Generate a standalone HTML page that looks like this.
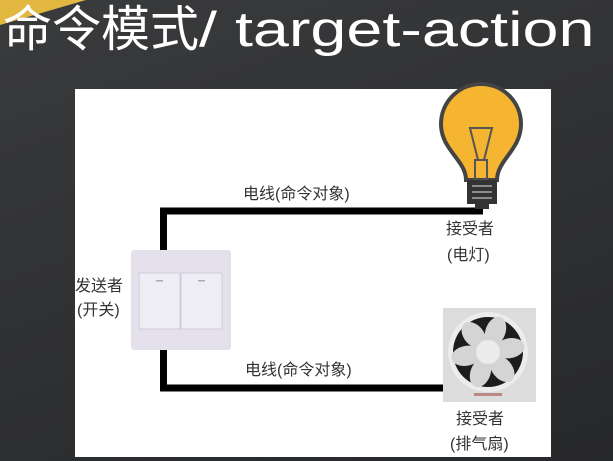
<!DOCTYPE html>
<html><head><meta charset="utf-8"><style>
html,body{margin:0;padding:0}
body{width:613px;height:461px;overflow:hidden;position:relative;background:linear-gradient(160deg,#3a3b3d 0%,#303133 50%,#27282a 100%);font-family:"Liberation Sans","Noto Sans CJK SC",sans-serif}
.t{position:absolute;white-space:nowrap;color:#333;font-size:16px;line-height:18px}
</style></head><body>
<svg width="613" height="461" style="position:absolute;left:0;top:0">
<polygon points="0,0 86,0 0,25" fill="#e2b840"/>
<rect x="75" y="89" width="476" height="368" fill="#fff"/>
<path d="M483,211 H163.5 V252" fill="none" stroke="#000" stroke-width="7"/>
<path d="M163.5,348 V388 H445" fill="none" stroke="#000" stroke-width="7"/>
<rect x="131" y="250" width="100" height="100" rx="3" fill="#e4e1ec"/>
<rect x="139" y="273" width="41" height="56" fill="#eeecf4" stroke="#cfcbd8"/>
<rect x="181" y="273" width="41" height="56" fill="#eeecf4" stroke="#cfcbd8"/>
<rect x="156" y="280" width="7" height="1.5" fill="#aaa"/>
<rect x="198" y="280" width="7" height="1.5" fill="#aaa"/>
<path d="M466,180 C466,160 441,150 441,124 A40,40 0 0 1 521,124 C521,150 497,160 497,180 Z" fill="#f5b531" stroke="#444" stroke-width="4"/>
<path d="M470,128 L492,128 L484,160 L478,160 Z" fill="none" stroke="#555" stroke-width="2"/>
<rect x="475" y="160" width="12" height="20" fill="none" stroke="#555" stroke-width="2"/>
<rect x="467" y="180" width="30" height="24" fill="#333"/>
<line x1="472" y1="186" x2="492" y2="186" stroke="#aaa" stroke-width="1.5"/>
<line x1="472" y1="192" x2="492" y2="192" stroke="#aaa" stroke-width="1.5"/>
<line x1="472" y1="198" x2="492" y2="198" stroke="#aaa" stroke-width="1.5"/>
<rect x="475" y="204" width="14" height="5" fill="#333"/>
<rect x="443" y="308" width="93" height="94" fill="#dcdcdc"/>
<circle cx="488" cy="352" r="40" fill="#ececec"/>
<circle cx="488" cy="352" r="35" fill="#1d1d1d"/>
<g fill="#d4d4d4">
<ellipse cx="488" cy="330" rx="10" ry="15" transform="rotate(20 488 352)"/>
<ellipse cx="488" cy="330" rx="10" ry="15" transform="rotate(80 488 352)"/>
<ellipse cx="488" cy="330" rx="10" ry="15" transform="rotate(140 488 352)"/>
<ellipse cx="488" cy="330" rx="10" ry="15" transform="rotate(200 488 352)"/>
<ellipse cx="488" cy="330" rx="10" ry="15" transform="rotate(260 488 352)"/>
<ellipse cx="488" cy="330" rx="10" ry="15" transform="rotate(320 488 352)"/>
</g>
<circle cx="488" cy="352" r="12" fill="#ececec"/>
<rect x="474" y="393" width="28" height="3" fill="#b88"/>
</svg>
<div style="position:absolute;left:3px;top:0px;font-size:49px;line-height:60px;color:#fff;white-space:nowrap">命令模式<span style="display:inline-block;transform:scaleX(1.32);transform-origin:0 0">/ target-action</span></div>
<div class="t" style="left:243px;top:186px">电线(命令对象)</div>
<div class="t" style="left:245px;top:362px">电线(命令对象)</div>
<div class="t" style="left:446px;top:221px">接受者</div>
<div class="t" style="left:447px;top:247px">(电灯)</div>
<div class="t" style="left:75px;top:278px">发送者</div>
<div class="t" style="left:77px;top:302px">(开关)</div>
<div class="t" style="left:456px;top:411px">接受者</div>
<div class="t" style="left:450px;top:436px">(排气扇)</div>
</body></html>
